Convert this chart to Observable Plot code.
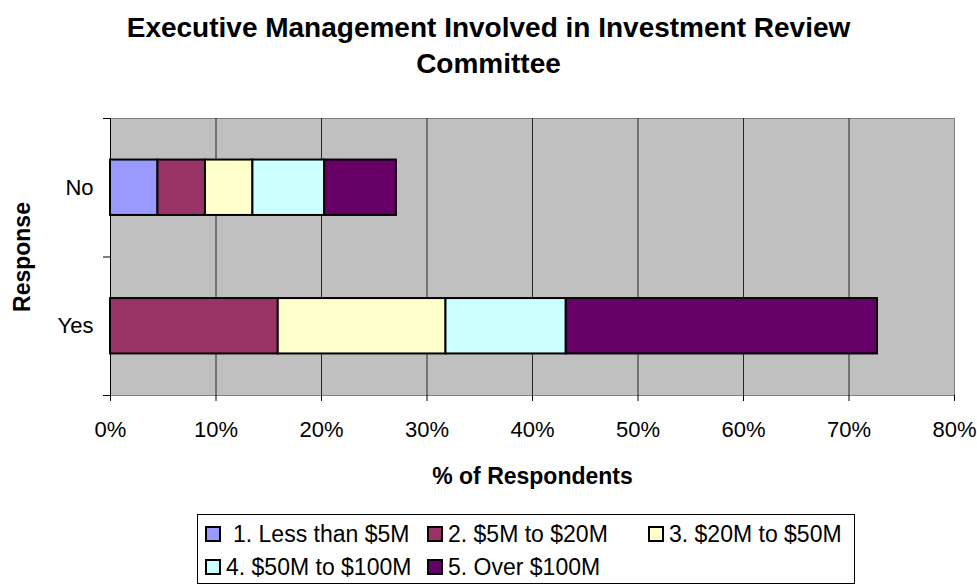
<!DOCTYPE html>
<html><head><meta charset="utf-8">
<script src="https://cdn.jsdelivr.net/npm/d3@7"></script>
<script src="https://cdn.jsdelivr.net/npm/@observablehq/plot@0.6"></script>
<style>
body{margin:0;background:#fff;font-family:"Liberation Sans",Arial,sans-serif;}
#title{position:absolute;left:0;top:10px;width:977px;text-align:center;font-weight:bold;font-size:28px;line-height:36px;}
#chart{position:absolute;left:0;top:100px;}
#legend{position:absolute;left:197px;top:514px;width:658px;height:70px;border:1px solid #000;box-sizing:border-box;font-size:23px;}
.item{position:absolute;display:flex;align-items:center;white-space:nowrap;height:30px;}
.sw{width:12px;height:12px;border:2px solid #000;display:inline-block;}
</style></head>
<body>
<div id="title">Executive Management Involved in Investment Review<br>Committee</div>
<div id="chart"></div>
<div id="legend"></div>
<script>
const categories = ["No", "Yes"];
const series = ["1. Less than $5M", "2. $5M to $20M", "3. $20M to $50M", "4. $50M to $100M", "5. Over $100M"];
const noValues = [4.5, 4.5, 4.5, 6.8, 6.8];
const yesValues = [0, 15.9, 15.9, 11.4, 29.5];
const colors = ["#9999FF", "#993366", "#FFFFCC", "#CCFFFF", "#660066"];
const xTicks = [0, 10, 20, 30, 40, 50, 60, 70, 80];

const valueSets = [noValues, yesValues];
const rows = [];
categories.forEach((c, i) => {
  let acc = 0;
  valueSets[i].forEach((v, j) => {
    if (v > 0) rows.push({cat: c, idx: i, series: series[j], x1: acc, x2: acc + v});
    acc += v;
  });
});

const chart = Plot.plot({
  width: 977, height: 400,
  marginLeft: 110, marginRight: 23, marginTop: 18, marginBottom: 105,
  style: {fontFamily: "'Liberation Sans', Arial, sans-serif", fontSize: "22px", color: "#000", background: "transparent"},
  x: {domain: [0, 80]},
  y: {domain: [0, 2], reverse: true},
  color: {domain: series, range: colors},
  marks: [
    Plot.frame({fill: "#c0c0c0", stroke: "#808080"}),
    Plot.ruleX(xTicks.filter(d => d > 0 && d < 80), {stroke: "#000", strokeOpacity: 0.8}),
    Plot.rectX(rows, {x1: "x1", x2: "x2", y1: d => d.idx + 0.3, y2: d => d.idx + 0.7, fill: "series", stroke: "#000", strokeWidth: 2}),
    Plot.ruleX([0], {stroke: "#000"}),
    Plot.axisX({ticks: xTicks, tickFormat: d => d + "%", tickSize: 6, tickPadding: 20, fontSize: 22,
      label: "% of Respondents", labelAnchor: "center", labelArrow: "none", labelOffset: 88}),
    Plot.axisY({ticks: [0, 1, 2], tickFormat: () => "", tickSize: 7, label: null}),
    Plot.axisY({ticks: [0.5, 1.5], tickFormat: d => categories[Math.floor(d)], tickSize: 0, tickPadding: 17, fontSize: 22,
      label: "Response", labelAnchor: "center", labelArrow: "none", labelOffset: 97})
  ]
});
d3.select(chart).selectAll("[aria-label='x-axis label'] text, [aria-label='y-axis label'] text").style("font-weight", "bold").style("font-size", "23px");
document.getElementById("chart").appendChild(chart);

const pos = [[7, 4], [229, 4], [450, 4], [7, 37], [229, 37]];
const gaps = [12, 5, 5, 5, 5];
const leg = d3.select("#legend");
series.forEach((s, i) => {
  const it = leg.append("div").attr("class", "item").style("left", pos[i][0] + "px").style("top", pos[i][1] + "px");
  it.append("span").attr("class", "sw").style("background", colors[i]).style("margin-right", gaps[i] + "px");
  it.append("span").text(s);
});
</script>
</body></html>
